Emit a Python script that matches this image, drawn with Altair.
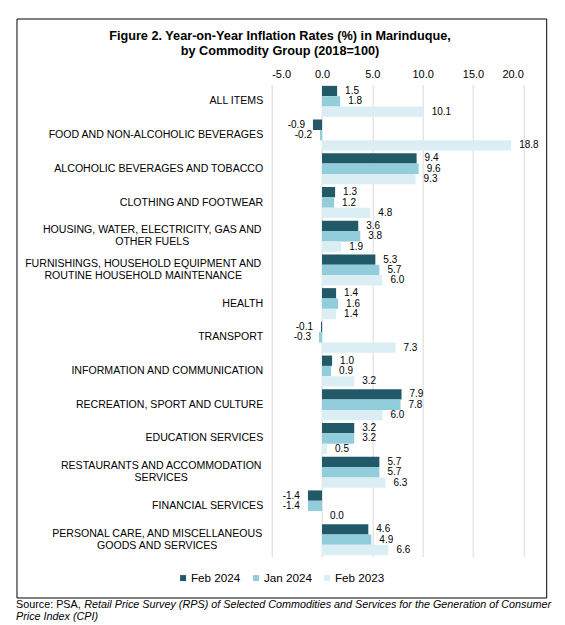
import altair as alt
import pandas as pd

FONT = "Liberation Sans"
MINUS = "\u2212"

categories = [
    "ALL ITEMS",
    "FOOD AND NON-ALCOHOLIC BEVERAGES",
    "ALCOHOLIC BEVERAGES  AND TOBACCO",
    "CLOTHING AND FOOTWEAR",
    "HOUSING, WATER, ELECTRICITY, GAS AND|OTHER FUELS",
    "FURNISHINGS, HOUSEHOLD EQUIPMENT AND|ROUTINE HOUSEHOLD MAINTENANCE",
    "HEALTH",
    "TRANSPORT",
    "INFORMATION AND COMMUNICATION",
    "RECREATION, SPORT AND CULTURE",
    "EDUCATION SERVICES",
    "RESTAURANTS AND ACCOMMODATION|SERVICES",
    "FINANCIAL SERVICES",
    "PERSONAL CARE, AND MISCELLANEOUS|GOODS AND SERVICES",
]
series = ["Feb 2024", "Jan 2024", "Feb 2023"]
feb_2024 = [1.5, -0.9, 9.4, 1.3, 3.6, 5.3, 1.4, -0.1, 1.0, 7.9, 3.2, 5.7, -1.4, 4.6]
jan_2024 = [1.8, -0.2, 9.6, 1.2, 3.8, 5.7, 1.6, -0.3, 0.9, 7.8, 3.2, 5.7, -1.4, 4.9]
feb_2023 = [10.1, 18.8, 9.3, 4.8, 1.9, 6.0, 1.4, 7.3, 3.2, 6.0, 0.5, 6.3, 0.0, 6.6]
colors = ["#215968", "#92CDDC", "#DAEEF3"]
x_ticks = [-5, 0, 5, 10, 15, 20]

title_text = "Figure 2. Year-on-Year Inflation Rates (%) in Marinduque,\nby Commodity Group (2018=100)"
source_plain = "Source: PSA,"
source_italic_1 = "Retail Price Survey (RPS) of Selected Commodities and Services for the Generation of Consumer"
source_italic_2 = "Price Index (CPI)"

rows = []
for name, vals in zip(series, [feb_2024, jan_2024, feb_2023]):
    for c, v in zip(categories, vals):
        rows.append({"category": c, "series": name, "value": v})
df = pd.DataFrame(rows)

# half widths of the two-line labels (lines are centred on each other)
multi_pad = {
    categories[4]: 120,
    categories[5]: 129,
    categories[11]: 111,
    categories[13]: 115,
}
is_multi = "indexof(datum.value, '|') >= 0"

y_axis = alt.Axis(
    title=None, domain=False, ticks=False, tickSize=0, grid=False,
    labelExpr="split(datum.label, '|')",
    labelFont=FONT, labelFontSize=10.6, labelColor="black",
    labelLimit=400, labelLineHeight=12,
    labelAlign={"condition": {"test": is_multi, "value": "center"}, "value": "right"},
    labelOffset={"condition": {"test": is_multi, "value": -6}, "value": 0},
    labelPadding={
        "condition": [{"test": f"datum.value == '{k}'", "value": v} for k, v in multi_pad.items()],
        "value": 9,
    },
)

x_axis = alt.Axis(
    orient="top", title=None, values=x_ticks, format=".1f",
    labelExpr=f"replace(datum.label, '{MINUS}', '-')",
    domain=False, ticks=False, tickSize=0,
    grid=True, gridColor="#D9D9D9", gridWidth=1,
    labelFont=FONT, labelFontSize=11, labelColor="black", labelPadding=5,
)

base = alt.Chart(df).encode(
    y=alt.Y("category:N", sort=categories,
            scale=alt.Scale(paddingInner=0.08, paddingOuter=0.04), axis=y_axis),
    yOffset=alt.YOffset("series:N", sort=series,
                        scale=alt.Scale(paddingInner=0, paddingOuter=0)),
    x=alt.X("value:Q", scale=alt.Scale(domain=[-5, 20], nice=False), axis=x_axis),
)

bars = base.mark_bar().encode(
    color=alt.Color(
        "series:N", sort=series,
        scale=alt.Scale(domain=series, range=colors),
        legend=alt.Legend(
            title=None, orient="none", legendX=-94.5, legendY=487.5,
            direction="horizontal", symbolType="square", symbolSize=36,
            symbolStrokeWidth=0, labelFont=FONT, labelFontSize=11.7,
            labelColor="black", labelOffset=2, columnPadding=9, padding=0,
        ),
    )
)

label_expr = f"replace(format(datum.value, '.1f'), '{MINUS}', '-')"
pos_text = base.transform_calculate(lbl=label_expr).transform_filter(
    "datum.value >= 0"
).mark_text(align="left", baseline="middle", dx=8, font=FONT, fontSize=10,
            color="black").encode(text="lbl:N")
neg_text = base.transform_calculate(lbl=label_expr).transform_filter(
    "datum.value < 0"
).mark_text(align="right", baseline="middle", dx=-8, font=FONT, fontSize=10,
            color="black").encode(text="lbl:N")

one = alt.Data(values=[{"t": 1}])

frame = alt.Chart(one).mark_rect(filled=False, stroke="black", strokeWidth=1).encode(
    x=alt.value(-254.7), x2=alt.value(275), y=alt.value(-65.5), y2=alt.value(513.5)
)

title = alt.Chart(alt.Data(values=[{"t": title_text}])).mark_text(
    font=FONT, fontSize=12.7, fontWeight="bold", color="black",
    align="center", baseline="alphabetic", lineBreak="\n", lineHeight=15,
).encode(x=alt.value(8.3), y=alt.value(-44.5), text="t:N")

src1 = alt.Chart(alt.Data(values=[{"t": source_plain}])).mark_text(
    font=FONT, fontSize=10.8, color="black", align="left", baseline="alphabetic",
).encode(x=alt.value(-255.7), y=alt.value(523.5), text="t:N")

src2 = alt.Chart(alt.Data(values=[{"t": source_italic_1}])).mark_text(
    font=FONT, fontSize=10.8, fontStyle="italic", color="black", align="left",
    baseline="alphabetic",
).encode(x=alt.value(-187.5), y=alt.value(523.5), text="t:N")

src3 = alt.Chart(alt.Data(values=[{"t": source_italic_2}])).mark_text(
    font=FONT, fontSize=10.8, fontStyle="italic", color="black", align="left",
    baseline="alphabetic",
).encode(x=alt.value(-255.7), y=alt.value(535.5), text="t:N")

chart = alt.layer(frame, title, bars, pos_text, neg_text, src1, src2, src3).properties(
    width=251.6,
    height=472,
    padding={"left": 263.7, "top": 76.5, "right": 33, "bottom": 66},
    autosize=alt.AutoSizeParams(type="none"),
).configure_view(stroke=None)

chart.save("out.html", embed_options={"renderer": "svg", "actions": False})
